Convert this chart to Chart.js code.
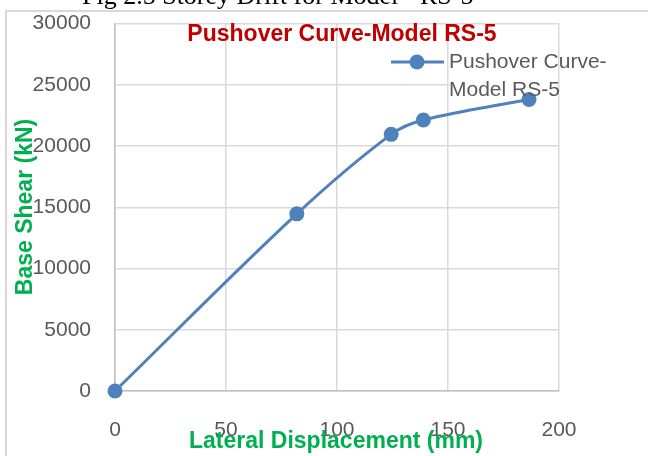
<!DOCTYPE html>
<html><head><meta charset="utf-8">
<script src="https://cdn.jsdelivr.net/npm/chart.js@4.4.1/dist/chart.umd.min.js"></script>
<style>html,body{margin:0;padding:0;background:#fff;overflow:hidden}#wrap{position:relative;width:648px;height:456px}</style>
</head><body><div id="wrap"><canvas id="c" width="648" height="456"></canvas></div>
<script>
const displacement = [0, 81.9, 124.4, 138.9, 186.5];
const baseShear = [0, 14460, 20950, 22120, 23800];
const xTickValues = [0, 50, 100, 150, 200];
const yTickValues = [0, 5000, 10000, 15000, 20000, 25000, 30000];
const seriesName = 'Pushover Curve-Model RS-5';
const legendLines = ['Pushover Curve-', 'Model RS-5'];
const chartTitle = 'Pushover Curve-Model RS-5';
const xAxisTitle = 'Lateral Displacement (mm)';
const yAxisTitle = 'Base Shear (kN)';
const captionText = 'Fig 2.5 Storey Drift for Model - RS-5';

const BLUE = '#4F81BD';
const SANS = '"Liberation Sans", Arial, sans-serif';

const overlay = {
  id: 'overlay',
  beforeDraw(chart) {
    const ctx = chart.ctx;
    ctx.save();
    ctx.fillStyle = '#fff';
    ctx.fillRect(0, 0, chart.width, chart.height);
    // caption (cut off at top)
    ctx.fillStyle = '#000';
    ctx.font = '26px "Liberation Serif", "Times New Roman", serif';
    ctx.textBaseline = 'alphabetic';
    ctx.textAlign = 'left';
    ctx.fillText(captionText, 82, 4);
    // outer frame
    ctx.strokeStyle = '#D9D9D9';
    ctx.lineWidth = 2;
    ctx.beginPath();
    ctx.moveTo(6, chart.height + 2);
    ctx.lineTo(6, 11);
    ctx.lineTo(chart.width + 2, 11);
    ctx.stroke();
    ctx.restore();
  },
  beforeDatasetsDraw(chart) {
    const ctx = chart.ctx;
    ctx.save();
    ctx.fillStyle = '#fff';
    ctx.fillRect(450, 50, 108, 46);
    ctx.restore();
  },
  afterDraw(chart) {
    const ctx = chart.ctx;
    ctx.save();
    // chart title
    ctx.fillStyle = '#C00000';
    ctx.font = 'bold 23px ' + SANS;
    ctx.textAlign = 'center';
    ctx.textBaseline = 'alphabetic';
    ctx.fillText(chartTitle, 342, 41);
    // axis titles
    ctx.fillStyle = '#00B050';
    ctx.font = 'bold 23px ' + SANS;
    ctx.fillText(xAxisTitle, 336, 448);
    ctx.save();
    ctx.translate(32, 207);
    ctx.rotate(-Math.PI / 2);
    ctx.fillText(yAxisTitle, 0, 0);
    ctx.restore();
    // legend
    ctx.strokeStyle = BLUE;
    ctx.lineWidth = 3;
    ctx.beginPath();
    ctx.moveTo(391, 62);
    ctx.lineTo(444, 62);
    ctx.stroke();
    ctx.fillStyle = BLUE;
    ctx.beginPath();
    ctx.arc(417, 62, 7.5, 0, Math.PI * 2);
    ctx.fill();
    ctx.fillStyle = '#595959';
    ctx.font = '21px ' + SANS;
    ctx.textAlign = 'left';
    ctx.textBaseline = 'middle';
    ctx.fillText(legendLines[0], 449, 62);
    ctx.fillText(legendLines[1], 449, 90);
    ctx.restore();
  }
};

new Chart(document.getElementById('c'), {
  type: 'line',
  data: {
    datasets: [{
      label: seriesName,
      data: displacement.map((x, i) => ({ x: x, y: baseShear[i] })),
      borderColor: BLUE,
      backgroundColor: BLUE,
      borderWidth: 3,
      pointRadius: 7.5,
      pointHoverRadius: 7.5,
      pointBackgroundColor: BLUE,
      pointBorderWidth: 0,
      tension: 0.35,
      fill: false,
      clip: false
    }]
  },
  options: {
    responsive: false,
    animation: false,
    devicePixelRatio: 1,
    layout: { padding: { left: 0, top: 23.5, right: 89, bottom: 0 } },
    plugins: {
      legend: { display: false },
      title: { display: false },
      tooltip: { enabled: false }
    },
    scales: {
      x: {
        type: 'linear',
        min: 0, max: 200,
        afterBuildTicks(scale) { scale.ticks = xTickValues.map(v => ({ value: v })); },
        afterFit(scale) { scale.height = 65; scale.paddingLeft = 0; scale.paddingRight = 0; },
        grid: { color: '#D9D9D9', lineWidth: 1.5, drawTicks: false },
        border: { color: '#BFBFBF', width: 1.5 },
        ticks: { color: '#595959', font: { family: SANS, size: 21 }, padding: 27, maxRotation: 0 }
      },
      y: {
        type: 'linear',
        min: 0, max: 30000,
        afterBuildTicks(scale) { scale.ticks = yTickValues.map(v => ({ value: v })); },
        afterFit(scale) { scale.width = 115; scale.paddingTop = 0; scale.paddingBottom = 0; },
        grid: { color: '#D9D9D9', lineWidth: 1.5, drawTicks: false },
        border: { color: '#BFBFBF', width: 1.5 },
        ticks: { color: '#595959', font: { family: SANS, size: 21 }, padding: 24, callback: v => String(v) }
      }
    }
  },
  plugins: [overlay]
});
</script></body></html>
